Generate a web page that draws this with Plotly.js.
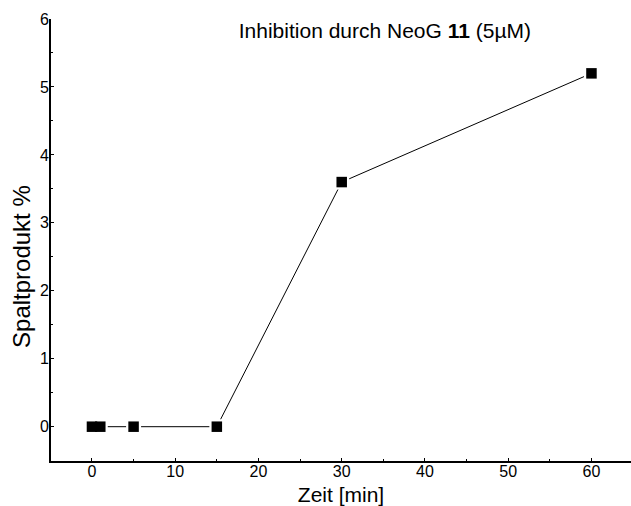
<!DOCTYPE html>
<html>
<head>
<meta charset="utf-8">
<script src="https://cdn.plot.ly/plotly-3.0.1.min.js"></script>
<style>html,body{margin:0;padding:0;background:#fff;}#chart{width:631px;height:506px;}</style>
</head>
<body>
<div id="chart"></div>
<script>
var zeit = [0, 1, 5, 15, 30, 60];
var spaltprodukt = [0, 0, 0, 0, 3.6, 5.2];
var xTicks = [0, 10, 20, 30, 40, 50, 60];
var yTicks = [0, 1, 2, 3, 4, 5, 6];
var titleText = 'Inhibition durch NeoG <b>11</b> (5µM)';
var xTitle = 'Zeit [min]';
var yTitle = 'Spaltprodukt %';

var FONT = 'Arial, "Liberation Sans", sans-serif';

var traces = [
  {x: zeit, y: spaltprodukt, mode: 'lines', line: {color: '#000', width: 1}, hoverinfo: 'skip'},
  {x: zeit, y: spaltprodukt, mode: 'markers', marker: {symbol: 'square', size: 15, color: '#fff'}, hoverinfo: 'skip'},
  {x: zeit, y: spaltprodukt, mode: 'markers', marker: {symbol: 'square', size: 10.5, color: '#000'}}
];

var layout = {
  width: 631, height: 506,
  margin: {l: 51, r: 0, t: 19, b: 45},
  paper_bgcolor: '#fff', plot_bgcolor: '#fff',
  showlegend: false,
  font: {family: FONT, color: '#000'},
  title: {text: titleText, font: {family: FONT, size: 21, color: '#000'},
          x: 0.61, xanchor: 'center', y: 0.94, yanchor: 'middle'},
  xaxis: {
    range: [-4.92, 64.75], tickvals: xTicks, ticktext: xTicks.map(String),
    showgrid: false, zeroline: false, showline: true, linecolor: '#000', linewidth: 2,
    ticks: 'inside', ticklen: 3, tickcolor: '#000', tickwidth: 1,
    minor: {ticks: 'inside', ticklen: 2, dtick: 5, tick0: 0, tickcolor: '#000', showgrid: false},
    tickfont: {family: FONT, size: 16, color: '#000'}, ticklabelstandoff: -5,
    title: {text: xTitle, font: {family: FONT, size: 21, color: '#000'}, standoff: 8}
  },
  yaxis: {
    range: [-0.505, 6], tickvals: yTicks, ticktext: yTicks.map(String),
    showgrid: false, zeroline: false, showline: true, linecolor: '#000', linewidth: 2,
    ticks: 'inside', ticklen: 3, tickcolor: '#000', tickwidth: 1,
    minor: {ticks: 'inside', ticklen: 2, dtick: 0.5, tick0: 0, tickcolor: '#000', showgrid: false},
    tickfont: {family: FONT, size: 16, color: '#000'}, ticklabelstandoff: -3
  },
  annotations: [
    {text: yTitle, textangle: -90, xref: 'paper', yref: 'paper',
     x: -0.05, y: 0.439, xanchor: 'center', yanchor: 'middle', showarrow: false,
     font: {family: FONT, size: 24, color: '#000'}}
  ]
};

Plotly.newPlot('chart', traces, layout, {staticPlot: true});
</script>
</body>
</html>
